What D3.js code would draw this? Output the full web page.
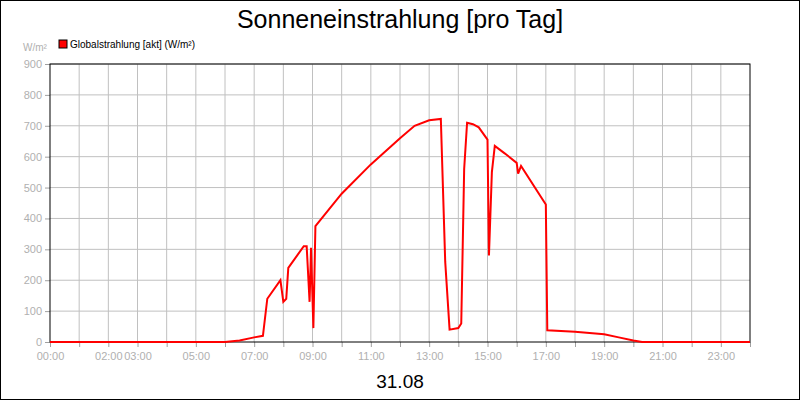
<!DOCTYPE html>
<html>
<head>
<meta charset="utf-8">
<script src="https://cdn.jsdelivr.net/npm/d3@7"></script>
<style>body{margin:0}text{font-family:"Liberation Sans",Arial,sans-serif}</style>
</head>
<body>
<svg id="c" width="800" height="400"></svg>
<script>
// hours since midnight, W/m2
var hours = [0,6.0,6.5,7.0,7.3,7.45,7.9,8.0,8.1,8.17,8.7,8.8,8.9,8.95,9.03,9.1,10,11,12,12.5,13,13.4,13.55,13.7,14.0,14.1,14.2,14.3,14.5,14.7,15.0,15.05,15.15,15.25,15.6,16.0,16.05,16.15,17.0,17.05,18,19,19.5,20,20.3,24];
var values = [0,0,5,15,20,140,200,130,140,240,310,310,130,305,45,375,480,575,660,700,718,722,260,40,45,60,560,710,705,695,655,280,550,635,610,580,545,570,445,38,33,25,15,5,0,0];
var tickHours = [0,2,3,5,7,9,11,13,15,17,19,21,23];
var yTicks = d3.range(0,901,100);

var svg = d3.select("#c");
svg.append("rect").attr("x",0.5).attr("y",0.5).attr("width",799).attr("height",399).attr("fill","#fff").attr("stroke","#000");
var x = d3.scaleLinear().domain([0,24]).range([50,750]);
var y = d3.scaleLinear().domain([0,900]).range([342,64]);
var g = svg.append("g");
g.selectAll(".vg").data(d3.range(1,24)).join("line").attr("x1",d=>x(d)).attr("x2",d=>x(d)).attr("y1",64).attr("y2",342).attr("stroke","#c0c0c0");
g.selectAll(".hg").data(yTicks.slice(1)).join("line").attr("x1",50).attr("x2",750).attr("y1",d=>y(d)).attr("y2",d=>y(d)).attr("stroke","#c0c0c0");
var ya = svg.append("g").attr("transform","translate(50,0)").call(d3.axisLeft(y).tickValues(yTicks).tickSize(5).tickSizeOuter(0));
var xa = svg.append("g").attr("transform","translate(0,342)").call(d3.axisBottom(x).tickValues(d3.range(0,25)).tickSize(5).tickSizeOuter(0).tickFormat(d=>tickHours.indexOf(d)>=0?String(d).padStart(2,"0")+":00":""));
[ya,xa].forEach(a=>{a.select(".domain").remove();a.selectAll("line").attr("stroke","#a0a0a0");a.selectAll("text").attr("fill","#b0b0b0").style("font-size","11px");});
xa.selectAll("text").attr("dy","0.9em");
svg.append("rect").attr("x",50).attr("y",64).attr("width",700).attr("height",278).attr("fill","none").attr("stroke","#000");
svg.append("path").datum(d3.zip(hours,values)).attr("fill","none").attr("stroke","#f00").attr("stroke-width",2)
  .attr("d",d3.line().x(d=>x(d[0])).y(d=>y(d[1])));
svg.append("text").attr("x",400).attr("y",28).attr("text-anchor","middle").style("font-size","25px").text("Sonneneinstrahlung [pro Tag]");
svg.append("text").attr("x",400).attr("y",388).attr("text-anchor","middle").style("font-size","19px").text("31.08");
svg.append("text").attr("x",23).attr("y",51).attr("fill","#b0b0b0").style("font-size","10px").text("W/m²");
svg.append("rect").attr("x",59).attr("y",40).attr("width",8).attr("height",8).attr("fill","#f00").attr("stroke","#000");
svg.append("text").attr("x",70).attr("y",48).style("font-size","10px").text("Globalstrahlung [akt] (W/m²)");
</script>
</body>
</html>
